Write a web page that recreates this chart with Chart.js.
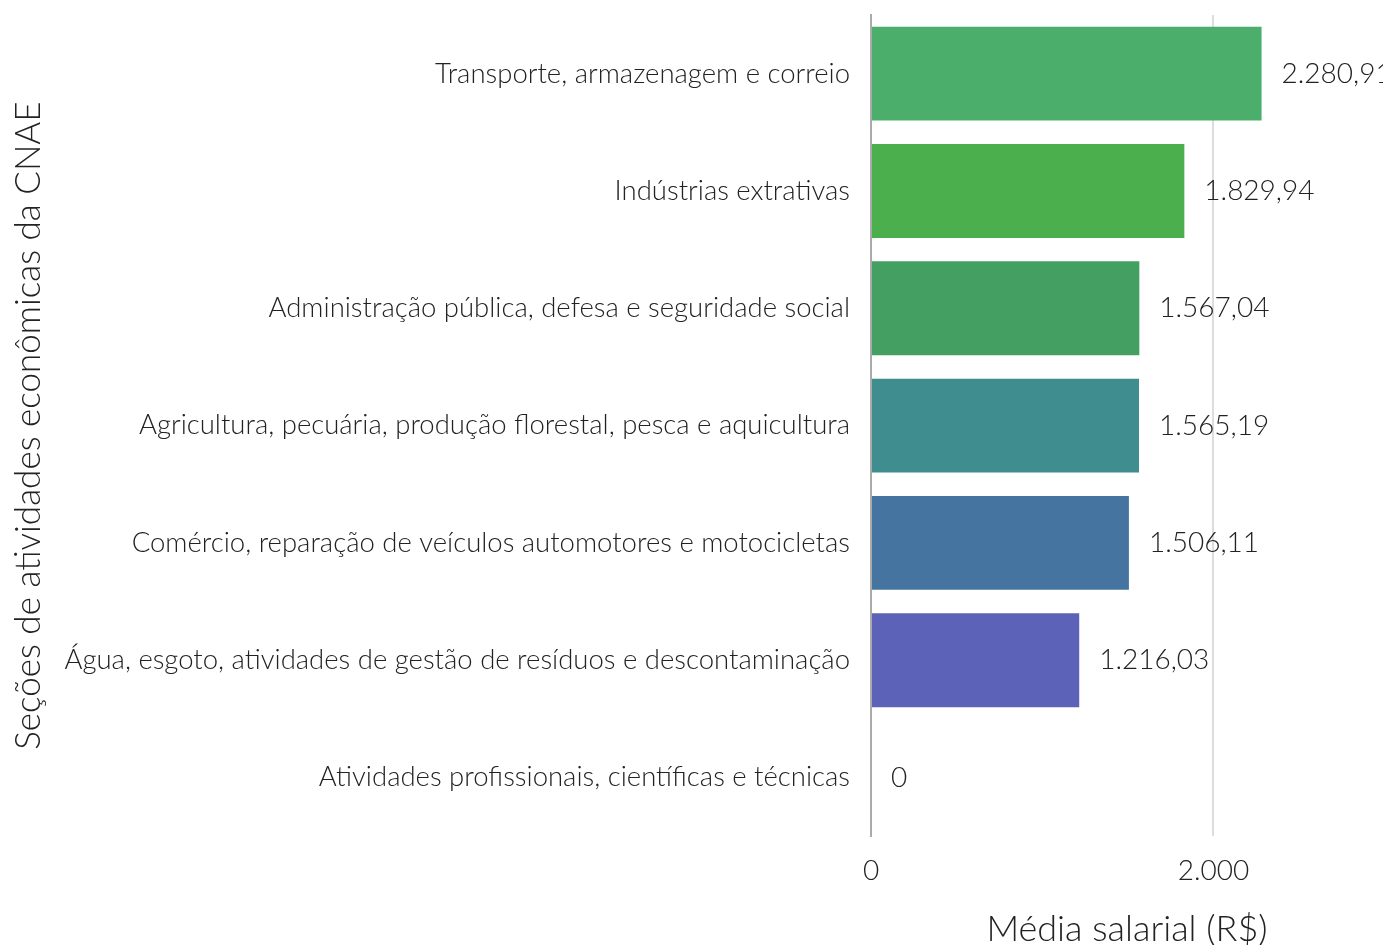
<!DOCTYPE html>
<html lang="pt-br">
<head>
  <meta charset="UTF-8">
  <title>Média salarial por seção CNAE</title>
  <script src="https://cdn.jsdelivr.net/npm/chart.js"></script>
  <style>
    html, body { margin: 0; padding: 0; background: #fff; }
    #wrap { width: 1383px; height: 945px; }
  </style>
</head>
<body>
  <div id="wrap"><canvas id="grafico"></canvas></div>
  <script>
    const secoes = [
      "Transporte, armazenagem e correio",
      "Indústrias extrativas",
      "Administração pública, defesa e seguridade social",
      "Agricultura, pecuária, produção florestal, pesca e aquicultura",
      "Comércio, reparação de veículos automotores e motocicletas",
      "Água, esgoto, atividades de gestão de resíduos e descontaminação",
      "Atividades profissionais, científicas e técnicas"
    ];
    const medias = [2280.91, 1829.94, 1567.04, 1565.19, 1506.11, 1216.03, 0];
    const cores = ["#4baf6b", "#4aaf4c", "#44a062", "#3f8d8f", "#44749f", "#5c62b8", "#6a4fa8"];
    const ticksX = [0, 2000];

    const fonte = "Lato, 'Open Sans', sans-serif";

    // formato brasileiro: 2.280,91
    function formatar(v, casas) {
      const partes = v.toFixed(casas).split(".");
      const inteiro = partes[0].replace(/\B(?=(\d{3})+(?!\d))/g, ".");
      return partes[1] ? inteiro + "," + partes[1] : inteiro;
    }

    const rotulos = {
      id: "rotulos",
      afterDatasetsDraw(chart) {
        const ctx = chart.ctx;
        const meta = chart.getDatasetMeta(0);
        ctx.save();
        ctx.font = "300 28px " + fonte;
        ctx.fillStyle = "#222";
        ctx.textAlign = "left";
        ctx.textBaseline = "middle";
        meta.data.forEach((bar, i) => {
          const v = medias[i];
          ctx.fillText(v === 0 ? "0" : formatar(v, 2), bar.x + 20, bar.y);
        });
        ctx.restore();
      }
    };

    new Chart(document.getElementById("grafico"), {
      type: "bar",
      data: {
        labels: secoes,
        datasets: [{
          data: medias,
          backgroundColor: cores,
          barPercentage: 0.8,
          categoryPercentage: 1
        }]
      },
      options: {
        indexAxis: "y",
        responsive: true,
        maintainAspectRatio: false,
        animation: false,
        layout: { padding: 0 },
        plugins: {
          legend: { display: false },
          tooltip: { enabled: false }
        },
        scales: {
          x: {
            min: 0,
            max: 2990,
            afterBuildTicks: s => { s.ticks = ticksX.map(v => ({ value: v })); },
            grid: { color: "#dddddd", lineWidth: 2, drawTicks: false },
            border: { display: false },
            ticks: {
              padding: 18,
              color: "#222",
              font: { family: fonte, size: 28, weight: 300 },
              callback: v => formatar(v, 0)
            },
            title: {
              display: true,
              text: "Média salarial (R$)",
              color: "#222",
              font: { family: fonte, size: 36, weight: 300 },
              padding: { top: 2, bottom: -6 }
            }
          },
          y: {
            afterFit: s => {
              s.width = 871;
              s.paddingTop = 15;
              s.paddingBottom = 0;
            },
            grid: { display: false },
            border: { display: true, color: "#aaaaaa", width: 2 },
            ticks: {
              padding: 13,
              color: "#222",
              font: { family: fonte, size: 27.5, weight: 300 }
            },
            title: {
              display: true,
              text: "Seções de atividades econômicas da CNAE",
              color: "#222",
              font: { family: fonte, size: 35, weight: 300 },
              padding: { top: 8, bottom: 0 }
            }
          }
        }
      },
      plugins: [rotulos]
    });
  </script>
</body>
</html>
